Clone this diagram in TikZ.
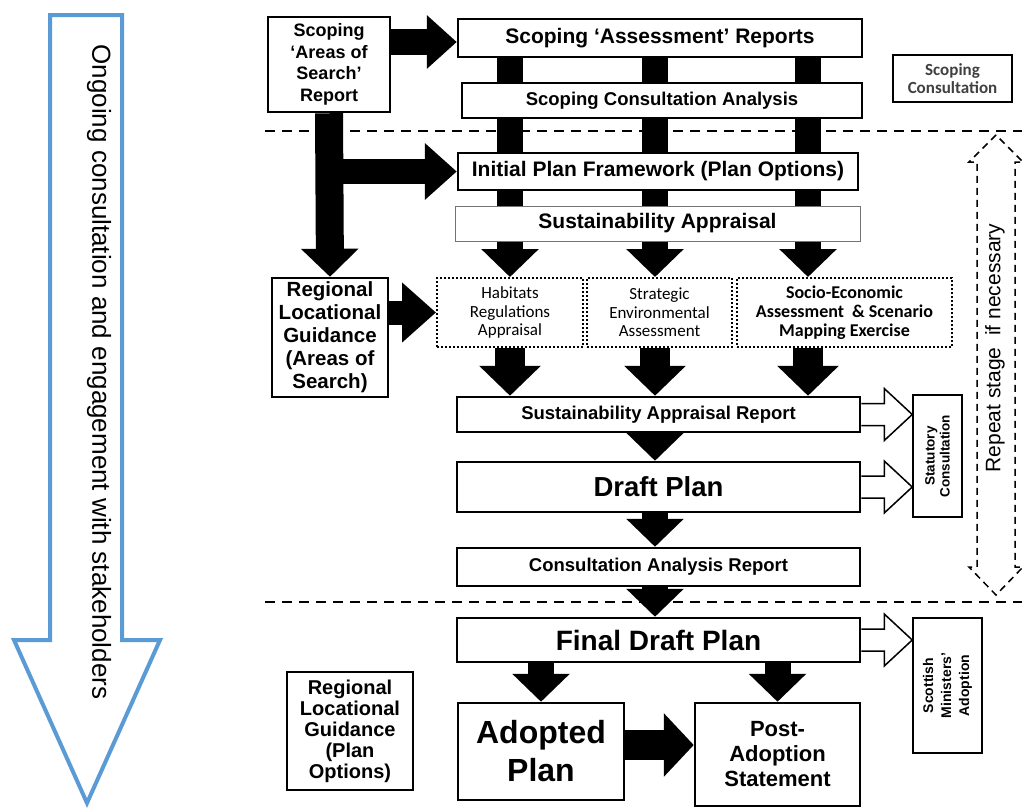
\documentclass[tikz,border=0pt]{standalone}
\usepackage{fontspec}
\setmainfont{Liberation Sans}
\newfontfamily\calibri{Carlito}
\usetikzlibrary{arrows.meta, calc, backgrounds, positioning}
\definecolor{stakeblue}{HTML}{5B9BD5}
\newcommand{\fsz}[2]{\fontsize{#1}{#2}\selectfont}
\newcommand{\hollowarrow}[2]{%
  \draw[hollow] ($(#1)+(0,-11)$) -- ($(#2)+(-28,-11)$) -- ($(#2)+(-28,-26)$) -- (#2)
    -- ($(#2)+(-28,26)$) -- ($(#2)+(-28,11)$) -- ($(#1)+(0,11)$);}

\begin{document}
\begin{tikzpicture}[
    x=1pt, y=-1pt,
    box/.style={draw, line width=2.5pt, fill=white, align=center, inner sep=2pt},
    thinbox/.style={draw, line width=1.5pt, fill=white, align=center, inner sep=2pt},
    dotbox/.style={draw, dotted, line width=2pt, fill=white, align=center, inner sep=2pt},
    blk/.style={line width=26pt, -{Triangle[width=56pt, length=28pt]}},
    hollow/.style={draw, line width=1.5pt, fill=white},
    stagebreak/.style={line width=2.5pt, dash pattern=on 10pt off 7pt}
]
\useasboundingbox (0,0) rectangle (1025,809);

% ongoing engagement
\draw[stakeblue, line width=4pt, line join=miter, fill=white]
    (50,15) -- (122,15) -- (122,640) -- (160,640) -- (87,803) -- (14,640) -- (50,640) -- cycle;
\node[rotate=-90, font=\fsz{26}{30}] (ongoing) at (99,372)
    {Ongoing consultation and engagement with stakeholders};

% scoping stage
\node[box, minimum width=122pt, minimum height=95pt, font=\bfseries\fsz{18}{21.5}] (scoparea) at (329,64.5)
    {Scoping\\‘Areas of\\Search’\\Report};
\node[box, minimum width=404pt, minimum height=38pt, font=\bfseries\fsz{21}{24}] (scopassess) at (660,38)
    {Scoping ‘Assessment’ Reports};
\node[box, minimum width=400pt, minimum height=35pt, font=\bfseries\fsz{18.5}{21}] (scopcons) at (662,100.5)
    {Scoping Consultation Analysis};
\node[thinbox, minimum width=119pt, minimum height=47pt, text=black!75, font=\calibri\bfseries\fsz{17}{18}] (scopconsult) at (952.5,78.5)
    {Scoping\\Consultation};

% plan options stage
\node[box, minimum width=400pt, minimum height=37pt, font=\bfseries\fsz{21}{24}] (ipf) at (658,171.5)
    {Initial Plan Framework (Plan Options)};
\node[draw=black!55, line width=1pt, fill=white, minimum width=405pt, minimum height=35pt, font=\bfseries\fsz{21}{24}] (sa) at (657.5,223.5)
    {Sustainability Appraisal};
\node[box, minimum width=116pt, minimum height=119pt, font=\bfseries\fsz{20.5}{23}] (rlgsearch) at (330,337.5)
    {Regional\\Locational\\Guidance\\(Areas of\\Search)};
\node[dotbox, minimum width=146pt, minimum height=69pt, font=\calibri\fsz{17}{18.5}] (hra) at (510,312.5)
    {Habitats\\Regulations\\Appraisal};
\node[dotbox, minimum width=145pt, minimum height=69pt, font=\calibri\fsz{17}{18.5}] (sea) at (659.5,312.5)
    {Strategic\\Environmental\\Assessment};
\node[dotbox, minimum width=215pt, minimum height=69pt, font=\calibri\bfseries\fsz{18}{19}] (seo) at (844.5,312.5)
    {Socio-Economic\\Assessment \ \& Scenario\\Mapping Exercise};
\node[box, minimum width=403pt, minimum height=35pt, font=\bfseries\fsz{18.5}{21}] (sar) at (658.5,414.5)
    {Sustainability Appraisal Report};
\node[box, minimum width=403pt, minimum height=50pt, font=\bfseries\fsz{27.5}{31}] (draft) at (658.5,487)
    {Draft Plan};
\node[box, minimum width=403pt, minimum height=38pt, font=\bfseries\fsz{18.5}{21}] (car) at (658.5,567)
    {Consultation Analysis Report};
\node[thinbox, minimum width=122pt, minimum height=49pt, rotate=90, font=\bfseries\fsz{13.5}{15}] (stat) at (937.5,456)
    {Statutory\\Consultation};

% adoption stage
\node[box, minimum width=403pt, minimum height=44pt, font=\bfseries\fsz{28}{31}] (fdp) at (658.5,640)
    {Final Draft Plan};
\node[box, minimum width=166pt, minimum height=97pt, font=\bfseries\fsz{32}{38}] (adopted) at (541,751.5)
    {Adopted\\Plan};
\node[box, minimum width=165pt, minimum height=103pt, font=\bfseries\fsz{22}{25}] (post) at (777.5,754.5)
    {Post-\\Adoption\\Statement};
\node[box, line width=2pt, minimum width=126pt, minimum height=118pt, font=\bfseries\fsz{20}{21}] (rlgoptions) at (350,731)
    {Regional\\Locational\\Guidance\\(Plan\\Options)};
\node[thinbox, minimum width=135pt, minimum height=69pt, rotate=90, font=\bfseries\fsz{14}{18}] (scot) at (947.5,685.5)
    {Scottish\\Ministers’\\Adoption};

% repeat stage
\draw[line width=1.5pt, dash pattern=on 7pt off 5pt, line join=miter]
    (996,135) -- (969,162) -- (977,162) -- (977,567) -- (969,567) -- (996,595)
    -- (1023,567) -- (1015,567) -- (1015,162) -- (1023,162) -- cycle;
\node[rotate=90, font=\fsz{21}{24}] (repeat) at (995,348) {Repeat stage \ if necessary};

% flow arrows
\coordinate (c1) at (510,0);
\coordinate (c2) at (655,0);
\coordinate (c3) at (808,0);
\begin{scope}[on background layer]
  \draw[stagebreak] (265,131) -- (1022,131);
  \draw[stagebreak] (265,602) -- (1022,602);
  \foreach \col/\target in {c1/hra, c2/sea, c3/seo} {
    \draw[blk] (scopassess.south -| \col) -- (\target.north -| \col);
    \draw[blk, line width=30pt, -{Triangle[width=60pt, length=30pt]}] (\target.south -| \col) -- (sar.north -| \col);
  }
  \draw[blk, line width=26pt, -{Triangle[width=52pt, length=30pt]}] (scoparea.east |- 0,42) -- (scopassess.west |- 0,42);
  \draw[blk, line width=28pt] (scoparea.south) -- (rlgsearch.north);
  \draw[blk, line width=25pt, -{Triangle[width=55pt, length=32pt]}] (scoparea.south |- ipf.west) -- (ipf.west);
  \draw[blk, line width=24pt, -{Triangle[width=58pt, length=34pt]}] (rlgsearch.east |- hra.west) -- (hra.west);
  \draw[blk] (sar.south -| c2) -- (draft.north -| c2);
  \draw[blk] (draft.south -| c2) -- (car.north -| c2);
  \draw[blk] (car.south -| c2) -- (fdp.north -| c2);
  \draw[blk] (fdp.south -| adopted.north) -- (adopted.north);
  \draw[blk] (fdp.south -| post.north) -- (post.north);
  \draw[blk, line width=30pt, -{Triangle[width=62pt, length=30pt]}] (adopted.east |- 0,745) -- (post.west |- 0,745);
\end{scope}

% consultation arrows
\coordinate (t1) at (stat.north |- sar.east);
\coordinate (t2) at (stat.north |- draft.east);
\coordinate (t3) at (scot.north |- fdp.east);
\hollowarrow{sar.east}{t1}
\hollowarrow{draft.east}{t2}
\hollowarrow{fdp.east}{t3}

\end{tikzpicture}
\end{document}
